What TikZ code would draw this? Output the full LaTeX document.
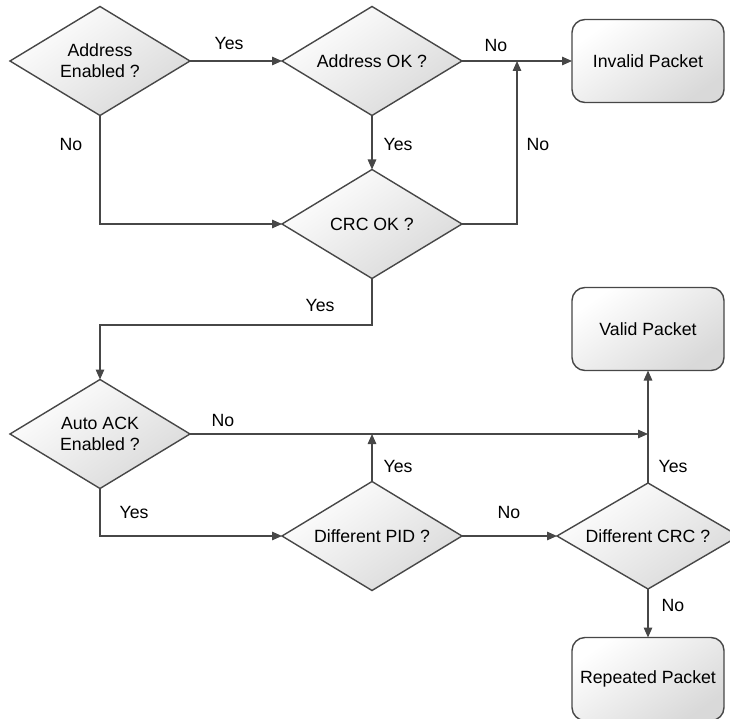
\documentclass[tikz,border=0pt]{standalone}
\usepackage{fontspec}
\setmainfont{Liberation Sans}
\usetikzlibrary{shapes.geometric,arrows.meta}
\definecolor{ln}{HTML}{474747}
\tikzset{
  base/.style={draw=ln, line width=1.4pt, outer sep=0pt, inner sep=0pt,
    top color=white, bottom color=black!15, shading angle=35,
    font=\fontsize{17.7}{21}\selectfont, align=center},
  dec/.style={base, diamond, aspect=1.65, minimum width=180pt, minimum height=109pt},
  term/.style={base, rectangle, rounded corners=13pt, minimum width=152pt, minimum height=83pt},
  conn/.style={draw=ln, line width=1.4pt, -{Triangle[length=10pt,width=8.5pt]}},
  lbl/.style={font=\fontsize{17.7}{21}\selectfont, inner sep=0pt}
}
\begin{document}
\begin{tikzpicture}[x=1pt,y=-1pt]
\useasboundingbox (0,0) rectangle (730,719);
% nodes
\node[dec] (aen) at (100,61) {Address\\Enabled ?};
\node[dec] (aok) at (372,61) {Address OK ?};
\node[dec] (crc) at (372,224) {CRC OK ?};
\node[dec] (ack) at (100,434) {Auto ACK\\Enabled ?};
\node[dec] (pid) at (372,536) {Different PID ?};
\node[dec, minimum width=182pt, minimum height=106pt] (dcrc) at (648,536) {Different CRC ?};
\node[term] (inv) at (648,61) {Invalid Packet};
\node[term] (val) at (648,329) {Valid Packet};
\node[term] (rep) at (648,679) {Repeated Packet};
% junctions
\coordinate (j1) at (517,61);
\coordinate (j2) at (648,434);
\coordinate (j3) at (372,434);
\coordinate (j4) at (100,325);
% connectors
\draw[conn] (aen.east) -- (aok.west);
\draw[conn] (aen.south) |- (crc.west);
\draw[conn] (aok.east) -- (inv.west);
\draw[conn] (aok.south) -- (crc.north);
\draw[conn] (crc.east) -| (j1);
\draw[conn] (crc.south) |- (j4) -- (ack.north);
\draw[conn] (ack.east) -- (j2);
\draw[conn] (pid.north) -- (j3);
\draw[conn] (ack.south) |- (pid.west);
\draw[conn] (pid.east) -- (dcrc.west);
\draw[conn] (dcrc.north) -- (val.south);
\draw[conn] (dcrc.south) -- (rep.north);
% labels
\node[lbl] (l1) at (229,44) {Yes};
\node[lbl] (l2) at (71,144) {No};
\node[lbl] (l3) at (496,46) {No};
\node[lbl] (l4) at (398,144) {Yes};
\node[lbl] (l5) at (538,144) {No};
\node[lbl] (l6) at (320,305) {Yes};
\node[lbl] (l7) at (223,420) {No};
\node[lbl] (l8) at (134,512) {Yes};
\node[lbl] (l9) at (398,466) {Yes};
\node[lbl] (l10) at (509,512) {No};
\node[lbl] (l11) at (673,466) {Yes};
\node[lbl] (l12) at (673,605) {No};
\end{tikzpicture}
\end{document}
